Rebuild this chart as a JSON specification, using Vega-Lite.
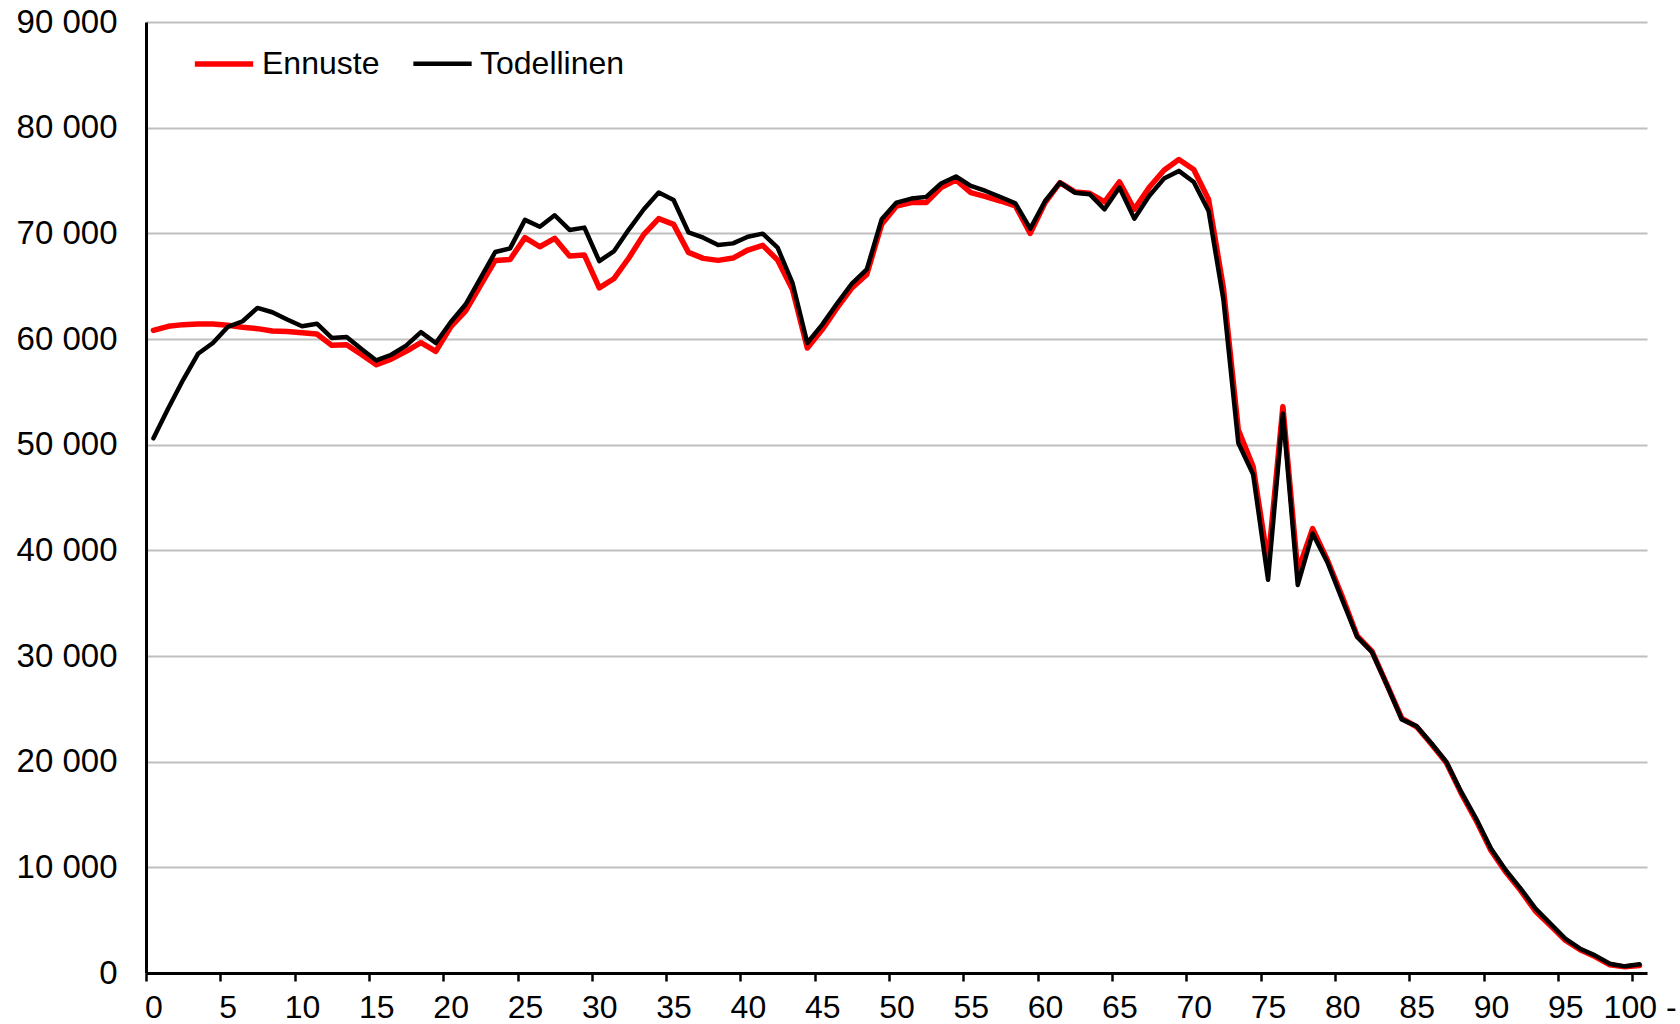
{
  "$schema": "https://vega.github.io/schema/vega-lite/v6.json",
  "width": 1501,
  "height": 951,
  "autosize": {"type": "none"},
  "padding": {"left": 146, "top": 22, "right": 33, "bottom": 51},
  "background": "white",
  "config": {
    "view": {"stroke": null},
    "font": "Liberation Sans"
  },
  "data": {
    "values": [
      {"age":0,"s":"Ennuste","v":60820},{"age":0,"s":"Todellinen","v":50600},
      {"age":1,"s":"Ennuste","v":61200},{"age":1,"s":"Todellinen","v":53450},
      {"age":2,"s":"Ennuste","v":61360},{"age":2,"s":"Todellinen","v":56140},
      {"age":3,"s":"Ennuste","v":61420},{"age":3,"s":"Todellinen","v":58600},
      {"age":4,"s":"Ennuste","v":61420},{"age":4,"s":"Todellinen","v":59620},
      {"age":5,"s":"Ennuste","v":61300},{"age":5,"s":"Todellinen","v":61140},
      {"age":6,"s":"Ennuste","v":61110},{"age":6,"s":"Todellinen","v":61680},
      {"age":7,"s":"Ennuste","v":60980},{"age":7,"s":"Todellinen","v":62940},
      {"age":8,"s":"Ennuste","v":60760},{"age":8,"s":"Todellinen","v":62530},
      {"age":9,"s":"Ennuste","v":60700},{"age":9,"s":"Todellinen","v":61840},
      {"age":10,"s":"Ennuste","v":60600},{"age":10,"s":"Todellinen","v":61200},
      {"age":11,"s":"Ennuste","v":60470},{"age":11,"s":"Todellinen","v":61450},
      {"age":12,"s":"Ennuste","v":59400},{"age":12,"s":"Todellinen","v":60100},
      {"age":13,"s":"Ennuste","v":59460},{"age":13,"s":"Todellinen","v":60190},
      {"age":14,"s":"Ennuste","v":58540},{"age":14,"s":"Todellinen","v":59050},
      {"age":15,"s":"Ennuste","v":57560},{"age":15,"s":"Todellinen","v":57970},
      {"age":16,"s":"Ennuste","v":58100},{"age":16,"s":"Todellinen","v":58510},
      {"age":17,"s":"Ennuste","v":58830},{"age":17,"s":"Todellinen","v":59370},
      {"age":18,"s":"Ennuste","v":59650},{"age":18,"s":"Todellinen","v":60650},
      {"age":19,"s":"Ennuste","v":58830},{"age":19,"s":"Todellinen","v":59620},
      {"age":20,"s":"Ennuste","v":61140},{"age":20,"s":"Todellinen","v":61580},
      {"age":21,"s":"Ennuste","v":62630},{"age":21,"s":"Todellinen","v":63260},
      {"age":22,"s":"Ennuste","v":65060},{"age":22,"s":"Todellinen","v":65730},
      {"age":23,"s":"Ennuste","v":67440},{"age":23,"s":"Todellinen","v":68230},
      {"age":24,"s":"Ennuste","v":67530},{"age":24,"s":"Todellinen","v":68580},
      {"age":25,"s":"Ennuste","v":69590},{"age":25,"s":"Todellinen","v":71270},
      {"age":26,"s":"Ennuste","v":68730},{"age":26,"s":"Todellinen","v":70630},
      {"age":27,"s":"Ennuste","v":69530},{"age":27,"s":"Todellinen","v":71710},
      {"age":28,"s":"Ennuste","v":67850},{"age":28,"s":"Todellinen","v":70320},
      {"age":29,"s":"Ennuste","v":67940},{"age":29,"s":"Todellinen","v":70540},
      {"age":30,"s":"Ennuste","v":64840},{"age":30,"s":"Todellinen","v":67370},
      {"age":31,"s":"Ennuste","v":65730},{"age":31,"s":"Todellinen","v":68320},
      {"age":32,"s":"Ennuste","v":67690},{"age":32,"s":"Todellinen","v":70380},
      {"age":33,"s":"Ennuste","v":69900},{"age":33,"s":"Todellinen","v":72280},
      {"age":34,"s":"Ennuste","v":71390},{"age":34,"s":"Todellinen","v":73860},
      {"age":35,"s":"Ennuste","v":70850},{"age":35,"s":"Todellinen","v":73160},
      {"age":36,"s":"Ennuste","v":68200},{"age":36,"s":"Todellinen","v":70100},
      {"age":37,"s":"Ennuste","v":67630},{"age":37,"s":"Todellinen","v":69590},
      {"age":38,"s":"Ennuste","v":67440},{"age":38,"s":"Todellinen","v":68890},
      {"age":39,"s":"Ennuste","v":67660},{"age":39,"s":"Todellinen","v":69050},
      {"age":40,"s":"Ennuste","v":68420},{"age":40,"s":"Todellinen","v":69680},
      {"age":41,"s":"Ennuste","v":68860},{"age":41,"s":"Todellinen","v":69970},
      {"age":42,"s":"Ennuste","v":67470},{"age":42,"s":"Todellinen","v":68640},
      {"age":43,"s":"Ennuste","v":64680},{"age":43,"s":"Todellinen","v":65320},
      {"age":44,"s":"Ennuste","v":59150},{"age":44,"s":"Todellinen","v":59620},
      {"age":45,"s":"Ennuste","v":60890},{"age":45,"s":"Todellinen","v":61360},
      {"age":46,"s":"Ennuste","v":62940},{"age":46,"s":"Todellinen","v":63350},
      {"age":47,"s":"Ennuste","v":64840},{"age":47,"s":"Todellinen","v":65250},
      {"age":48,"s":"Ennuste","v":66110},{"age":48,"s":"Todellinen","v":66580},
      {"age":49,"s":"Ennuste","v":70850},{"age":49,"s":"Todellinen","v":71330},
      {"age":50,"s":"Ennuste","v":72590},{"age":50,"s":"Todellinen","v":72910},
      {"age":51,"s":"Ennuste","v":72910},{"age":51,"s":"Todellinen","v":73290},
      {"age":52,"s":"Ennuste","v":72910},{"age":52,"s":"Todellinen","v":73450},
      {"age":53,"s":"Ennuste","v":74340},{"age":53,"s":"Todellinen","v":74720},
      {"age":54,"s":"Ennuste","v":75050},{"age":54,"s":"Todellinen","v":75380},
      {"age":55,"s":"Ennuste","v":73850},{"age":55,"s":"Todellinen","v":74490},
      {"age":56,"s":"Ennuste","v":73480},{"age":56,"s":"Todellinen","v":74010},
      {"age":57,"s":"Ennuste","v":73060},{"age":57,"s":"Todellinen","v":73440},
      {"age":58,"s":"Ennuste","v":72590},{"age":58,"s":"Todellinen","v":72840},
      {"age":59,"s":"Ennuste","v":70000},{"age":59,"s":"Todellinen","v":70440},
      {"age":60,"s":"Ennuste","v":72910},{"age":60,"s":"Todellinen","v":73060},
      {"age":61,"s":"Ennuste","v":74800},{"age":61,"s":"Todellinen","v":74800},
      {"age":62,"s":"Ennuste","v":73920},{"age":62,"s":"Todellinen","v":73850},
      {"age":63,"s":"Ennuste","v":73790},{"age":63,"s":"Todellinen","v":73700},
      {"age":64,"s":"Ennuste","v":72970},{"age":64,"s":"Todellinen","v":72270},
      {"age":65,"s":"Ennuste","v":74870},{"age":65,"s":"Todellinen","v":74330},
      {"age":66,"s":"Ennuste","v":72270},{"age":66,"s":"Todellinen","v":71390},
      {"age":67,"s":"Ennuste","v":74330},{"age":67,"s":"Todellinen","v":73540},
      {"age":68,"s":"Ennuste","v":75970},{"age":68,"s":"Todellinen","v":75180},
      {"age":69,"s":"Ennuste","v":76980},{"age":69,"s":"Todellinen","v":75910},
      {"age":70,"s":"Ennuste","v":76040},{"age":70,"s":"Todellinen","v":74860},
      {"age":71,"s":"Ennuste","v":73200},{"age":71,"s":"Todellinen","v":72120},
      {"age":72,"s":"Ennuste","v":64800},{"age":72,"s":"Todellinen","v":63700},
      {"age":73,"s":"Ennuste","v":51400},{"age":73,"s":"Todellinen","v":50160},
      {"age":74,"s":"Ennuste","v":47900},{"age":74,"s":"Todellinen","v":47170},
      {"age":75,"s":"Ennuste","v":38800},{"age":75,"s":"Todellinen","v":37220},
      {"age":76,"s":"Ennuste","v":53600},{"age":76,"s":"Todellinen","v":52950},
      {"age":77,"s":"Ennuste","v":38000},{"age":77,"s":"Todellinen","v":36720},
      {"age":78,"s":"Ennuste","v":42050},{"age":78,"s":"Todellinen","v":41600},
      {"age":79,"s":"Ennuste","v":39070},{"age":79,"s":"Todellinen","v":38850},
      {"age":80,"s":"Ennuste","v":35600},{"age":80,"s":"Todellinen","v":35280},
      {"age":81,"s":"Ennuste","v":31900},{"age":81,"s":"Todellinen","v":31800},
      {"age":82,"s":"Ennuste","v":30440},{"age":82,"s":"Todellinen","v":30350},
      {"age":83,"s":"Ennuste","v":27280},{"age":83,"s":"Todellinen","v":27240},
      {"age":84,"s":"Ennuste","v":24100},{"age":84,"s":"Todellinen","v":23990},
      {"age":85,"s":"Ennuste","v":23300},{"age":85,"s":"Todellinen","v":23360},
      {"age":86,"s":"Ennuste","v":21650},{"age":86,"s":"Todellinen","v":21720},
      {"age":87,"s":"Ennuste","v":19900},{"age":87,"s":"Todellinen","v":19980},
      {"age":88,"s":"Ennuste","v":17000},{"age":88,"s":"Todellinen","v":17140},
      {"age":89,"s":"Ennuste","v":14450},{"age":89,"s":"Todellinen","v":14620},
      {"age":90,"s":"Ennuste","v":11600},{"age":90,"s":"Todellinen","v":11780},
      {"age":91,"s":"Ennuste","v":9550},{"age":91,"s":"Todellinen","v":9720},
      {"age":92,"s":"Ennuste","v":7800},{"age":92,"s":"Todellinen","v":7990},
      {"age":93,"s":"Ennuste","v":5850},{"age":93,"s":"Todellinen","v":6090},
      {"age":94,"s":"Ennuste","v":4500},{"age":94,"s":"Todellinen","v":4670},
      {"age":95,"s":"Ennuste","v":3100},{"age":95,"s":"Todellinen","v":3250},
      {"age":96,"s":"Ennuste","v":2200},{"age":96,"s":"Todellinen","v":2300},
      {"age":97,"s":"Ennuste","v":1550},{"age":97,"s":"Todellinen","v":1670},
      {"age":98,"s":"Ennuste","v":780},{"age":98,"s":"Todellinen","v":880},
      {"age":99,"s":"Ennuste","v":580},{"age":99,"s":"Todellinen","v":630},
      {"age":100,"s":"Ennuste","v":700},{"age":100,"s":"Todellinen","v":820}
    ]
  },
  "mark": {"type": "line", "strokeJoin": "round", "strokeCap": "round"},
  "encoding": {
    "x": {
      "field": "age",
      "type": "quantitative",
      "scale": {"domain": [-0.5, 100.5], "nice": false, "zero": false},
      "axis": {
        "title": null,
        "values": [0,5,10,15,20,25,30,35,40,45,50,55,60,65,70,75,80,85,90,95,100],
        "labelExpr": "datum.value == 100 ? '100 -' : datum.label",
        "grid": false,
        "domainColor": "#000000",
        "domainWidth": 3,
        "tickColor": "#000000",
        "tickWidth": 2.5,
        "tickSize": 8,
        "tickOffset": -7.4,
        "labelOffset": 7.4,
        "labelPadding": 11,
        "labelFontSize": 32,
        "labelColor": "#000000",
        "labelFont": "Liberation Sans",
        "labelFlush": false,
        "labelOverlap": false
      }
    },
    "y": {
      "field": "v",
      "type": "quantitative",
      "scale": {"domain": [0, 90000], "nice": false},
      "axis": {
        "title": null,
        "values": [0,10000,20000,30000,40000,50000,60000,70000,80000,90000],
        "labelExpr": "replace(format(datum.value, ','), ',', ' ')",
        "ticks": false,
        "grid": true,
        "gridColor": "#BFBFBF",
        "gridWidth": 2,
        "domainColor": "#000000",
        "domainWidth": 3,
        "labelPadding": 29,
        "labelFontSize": 33,
        "labelColor": "#000000",
        "labelFont": "Liberation Sans",
        "labelFlush": false,
        "labelOverlap": false
      }
    },
    "color": {
      "field": "s",
      "type": "nominal",
      "scale": {"domain": ["Ennuste", "Todellinen"], "range": ["#FF0000", "#000000"]},
      "legend": {
        "title": null,
        "orient": "none",
        "legendX": 46,
        "legendY": 10,
        "direction": "horizontal",
        "symbolType": "stroke",
        "symbolSize": 3400,
        "symbolStrokeWidth": 5.5,
        "labelFontSize": 32,
        "labelFont": "Liberation Sans",
        "labelColor": "#000000",
        "labelOffset": 6,
        "columnPadding": 24,
        "padding": 0
      }
    },
    "strokeWidth": {
      "field": "s",
      "type": "nominal",
      "scale": {"domain": ["Ennuste", "Todellinen"], "range": [5.5, 4.5]},
      "legend": null
    }
  }
}
